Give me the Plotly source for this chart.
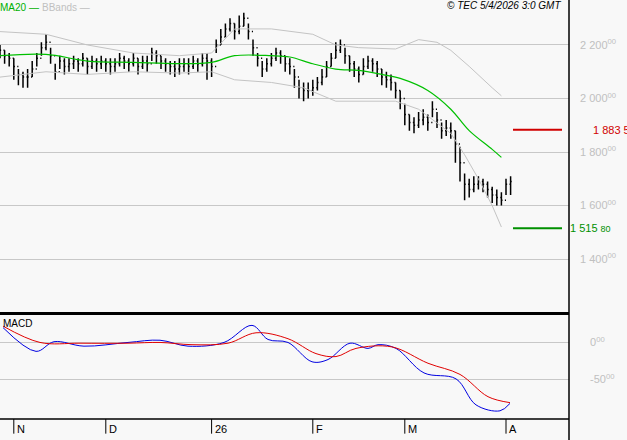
import plotly.graph_objects as go
import pandas as pd

closes = [2180,2160,2150,2120,2090,2080,2080,2110,2150,2190,2210,2160,2100,2140,2120,
          2130,2140,2130,2150,2120,2140,2130,2140,2130,2120,2130,2150,2140,2130,2150,
          2120,2140,2130,2170,2160,2140,2130,2120,2110,2120,2130,2120,2140,2130,2150,2140,2120,
          2200,2230,2260,2280,2250,2270,2300,2250,2190,2150,2110,2130,
          2150,2170,2160,2130,2120,2080,2040,2030,2030,2040,2060,2080,
          2120,2150,2180,2200,2160,2130,2110,2090,2120,2140,2130,2110,
          2080,2070,2060,2030,2000,1940,1910,1900,1920,1930,1910,
          1960,1920,1880,1890,1880,1830,1760,1680,1660,1680,
          1690,1680,1660,1640,1630,1620,1680,1690]
highs = [2200,2180,2170,2150,2110,2100,2110,2140,2170,2210,2240,2190,2130,2160,2150,
         2150,2160,2150,2170,2150,2160,2150,2160,2150,2150,2150,2170,2160,2150,2170,
         2150,2160,2160,2190,2180,2160,2150,2140,2140,2150,2150,2150,2160,2150,2170,2170,2150,
         2220,2260,2280,2300,2280,2310,2320,2280,2220,2170,2140,2150,
         2170,2190,2180,2160,2150,2110,2070,2060,2060,2070,2080,2110,
         2140,2170,2210,2220,2190,2160,2140,2120,2150,2160,2150,2140,
         2110,2100,2090,2060,2030,1980,1940,1930,1950,1960,1940,
         1990,1950,1910,1920,1910,1880,1820,1720,1700,1710,
         1710,1700,1690,1670,1660,1650,1700,1710]
lows = [2150,2130,2120,2070,2050,2040,2040,2080,2120,2160,2180,2130,2070,2110,2090,
        2100,2110,2100,2120,2090,2110,2100,2110,2100,2090,2100,2120,2110,2100,2120,
        2090,2110,2100,2140,2130,2110,2100,2090,2080,2090,2100,2090,2110,2100,2120,2070,2080,
        2170,2200,2230,2250,2220,2240,2270,2220,2160,2120,2080,2100,
        2120,2140,2130,2100,2090,2040,2000,1990,2000,2010,2030,2050,
        2080,2120,2150,2170,2130,2100,2080,2060,2090,2110,2100,2080,
        2050,2040,2030,2000,1960,1900,1880,1870,1890,1900,1880,
        1930,1890,1850,1860,1850,1760,1690,1620,1630,1650,
        1660,1650,1630,1610,1600,1600,1640,1640]

ma_idx = [0,10,19,29,39,46,51,59,63,68,73,78,83,87,93,98,102,107,109]
ma20 = [2160,2165,2140,2135,2130,2135,2160,2160,2155,2130,2110,2105,2090,2075,2030,1960,1880,1810,1780]
ub_idx = [0,10,19,29,39,46,51,59,68,73,78,86,91,95,98,102,107,109]
upper = [2250,2240,2200,2170,2160,2170,2260,2260,2240,2200,2190,2185,2220,2210,2180,2120,2040,2010]
lb_idx = [0,10,19,29,39,46,51,59,66,73,80,86,91,98,101,104,107,109]
lower = [2080,2100,2090,2100,2095,2100,2070,2060,2040,1990,1990,1990,1960,1870,1790,1700,1600,1520]

macd_px = [3,36,54,84,128,160,188,224,252,268,288,312,328,350,368,378,396,424,456,476,500,510]
macd = [20,-12,1,-5,0,3,-5,0,23,4,0,-26,-23,-1,-8,-3,-8,-41,-49,-84,-92,-82]
sig_px = [3,40,80,128,160,192,228,256,288,316,336,356,392,428,460,488,510]
signal = [22,0,-1,-1,0,-3,-1,13,5,-15,-19,-8,-6,-28,-43,-73,-81]

resistance = 1883.5
support = 1515.80
price_ticks = [1400, 1600, 1800, 2000, 2200]
price_text = ["1 400<sup>00</sup>", "1 600<sup>00</sup>", "1 800<sup>00</sup>", "2 000<sup>00</sup>", "2 200<sup>00</sup>"]
macd_ticks = [0, -50]
macd_text = ["0<sup>00</sup>", "-50<sup>00</sup>"]
month_labels = ["N", "D", "26", "F", "M", "A"]

dates = pd.bdate_range("2025-10-29", periods=len(closes))
idx = list(range(len(closes)))
opens = [closes[0]] + closes[:-1]
PX = 4.6
def px2i(p): return p / PX
month_pos = []
for i in range(1, len(dates)):
    if dates[i].month != dates[i-1].month:
        month_pos.append(i)

fig = go.Figure()
gray = "#c4c4c4"
fig.add_trace(go.Scatter(x=ub_idx, y=upper, mode="lines", line=dict(color=gray, width=1), xaxis="x", yaxis="y"))
fig.add_trace(go.Scatter(x=lb_idx, y=lower, mode="lines", line=dict(color=gray, width=1), xaxis="x", yaxis="y"))
fig.add_trace(go.Ohlc(x=idx, open=opens, high=highs, low=lows, close=closes, xaxis="x", yaxis="y",
                      increasing=dict(line=dict(color="black", width=1.5)),
                      decreasing=dict(line=dict(color="black", width=1.5)), tickwidth=0.25))
fig.add_trace(go.Scatter(x=ma_idx, y=ma20, mode="lines", line=dict(color="#00c000", width=1.2, shape="spline"), xaxis="x", yaxis="y"))
fig.add_trace(go.Scatter(x=[px2i(513), px2i(562)], y=[resistance]*2, mode="lines", line=dict(color="#d00000", width=2), xaxis="x", yaxis="y"))
fig.add_trace(go.Scatter(x=[px2i(513), px2i(562)], y=[support]*2, mode="lines", line=dict(color="#009000", width=2), xaxis="x", yaxis="y"))
fig.add_trace(go.Scatter(x=[px2i(p) for p in macd_px], y=macd, mode="lines", line=dict(color="#0000e0", width=1, shape="spline"), xaxis="x2", yaxis="y2"))
fig.add_trace(go.Scatter(x=[px2i(p) for p in sig_px], y=signal, mode="lines", line=dict(color="#e00000", width=1, shape="spline"), xaxis="x2", yaxis="y2"))

xr = [px2i(0), px2i(569)]
shapes = []
for m in month_pos:
    shapes.append(dict(type="line", xref="x2", yref="paper", x0=m, x1=m, y0=0, y1=-0.035, line=dict(color="black", width=1)))
shapes.append(dict(type="line", xref="paper", yref="paper", x0=0, x1=1, y0=0.252, y1=0.252, line=dict(color="black", width=3)))
shapes.append(dict(type="line", xref="paper", yref="paper", x0=0, x1=1, y0=0, y1=0, line=dict(color="black", width=1.5)))
shapes.append(dict(type="line", xref="paper", yref="paper", x0=1, x1=1, y0=-0.05, y1=1.05, line=dict(color="black", width=1.5)))

ann = []
for m, lab in zip(month_pos, month_labels):
    ann.append(dict(x=m, y=-0.005, xref="x2", yref="paper", text=lab, showarrow=False, xanchor="left", yanchor="top",
                    xshift=1, font=dict(size=11, color="black")))
ann += [
    dict(x=0, y=1, xref="paper", yref="paper", text="MA20 —", showarrow=False, xanchor="left", yanchor="top", xshift=-2, font=dict(size=10, color="#00b000")),
    dict(x=0.07, y=1, xref="paper", yref="paper", text="BBands —", showarrow=False, xanchor="left", yanchor="top", font=dict(size=10, color="#c0c0c0")),
    dict(x=0.99, y=1.005, xref="paper", yref="paper", text="<i>© TEC 5/4/2026 3:0 GMT</i>", showarrow=False, xanchor="right", yanchor="top", font=dict(size=10, color="black")),
    dict(x=0.002, y=0.245, xref="paper", yref="paper", text="MACD", showarrow=False, xanchor="left", yanchor="top", font=dict(size=10, color="black")),
    dict(x=1, y=resistance, xref="paper", yref="y", text="1 883 5", showarrow=False, xanchor="left", xshift=22, font=dict(size=11, color="#d00000")),
    dict(x=1, y=support, xref="paper", yref="y", text="1 515 <span style='font-size:9px'>80</span>", showarrow=False, xanchor="left", xshift=-1, font=dict(size=11, color="#009000")),
]

fig.update_layout(
    width=627, height=440, margin=dict(l=0, r=58, t=0, b=21, autoexpand=False),
    paper_bgcolor="#f8f8f8", plot_bgcolor="#f8f8f8", showlegend=False,
    font=dict(family="Liberation Sans"),
    xaxis=dict(domain=[0, 1], range=xr, showticklabels=False, showgrid=False, zeroline=False, anchor="y"),
    xaxis2=dict(domain=[0, 1], range=xr, showticklabels=False, showgrid=False, zeroline=False, anchor="y2", matches="x"),
    yaxis=dict(domain=[0.255, 1], range=[1202, 2368], side="right", tickvals=price_ticks, ticktext=price_text,
               gridcolor="#c8c8c8", zeroline=False, tickfont=dict(size=11, color="#c0c0c0"), ticks="", ticklabelstandoff=10),
    yaxis2=dict(domain=[0, 0.243], range=[-103, 34], side="right", tickvals=macd_ticks, ticktext=macd_text,
                gridcolor="#c8c8c8", zeroline=False, tickfont=dict(size=11, color="#c0c0c0"), ticks="", ticklabelstandoff=20),
    xaxis_rangeslider_visible=False,
    shapes=shapes, annotations=ann,
)
fig.write_html("out.html", config={"displayModeBar": False},
               post_script="document.body.style.margin='0';document.body.style.overflow='hidden';")
